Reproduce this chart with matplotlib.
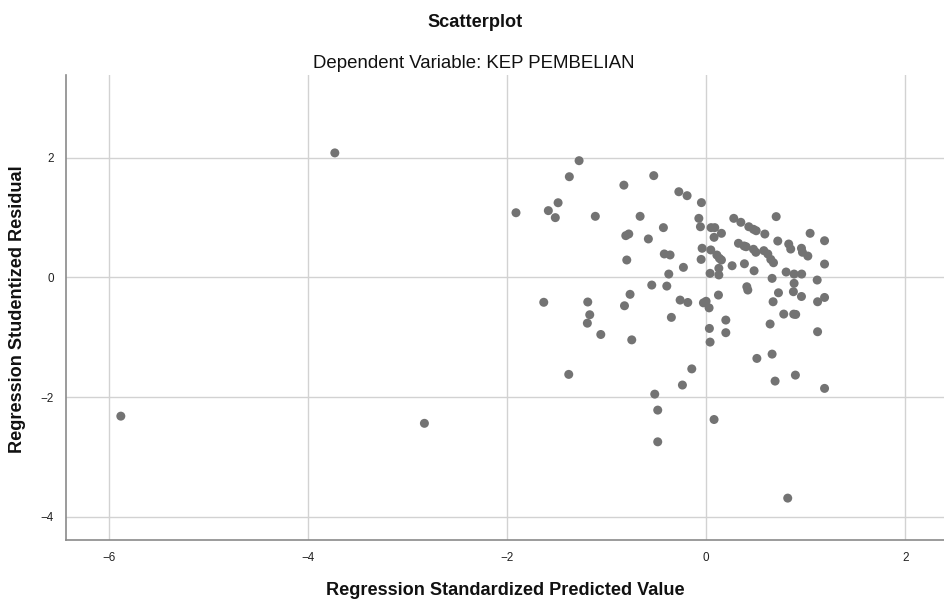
import matplotlib
matplotlib.use("Agg")
import matplotlib.pyplot as plt
from matplotlib import font_manager

# Regression standardized predicted value (x) vs studentized residual (y)
pred = [
    -5.88, -3.73, -2.83, 0.82,
    -1.276, -1.374, -0.826, -0.526, -1.487, -1.91, -1.585, -1.515, -1.113, -0.663,
    -0.807, -0.777, -0.58, -0.797, -0.546,
    -0.764, -0.82, -1.631, -1.189, -1.169, -1.193, -1.058, -0.747, -1.38, -0.516,
    -0.486, -0.486,
    -0.274, -0.191, -0.047, -0.429, -0.073, -0.057, 0.05, 0.087, 0.154, 0.08,
    0.278, 0.349, 0.429, 0.476, 0.503, 0.59, 0.704, 0.72, 0.83, 0.85,
    0.958, 0.968, 1.022, 1.045, 1.19, 1.19, -0.04, 0.047, 0.108, 0.134, 0.154,
    -0.05, 0.325, 0.382, 0.402, 0.476, 0.5, 0.58, 0.62, 0.65, 0.677,
    -0.42, -0.362, -0.228, -0.375, 0.128, 0.128, 0.04, 0.261, 0.385, 0.482,
    0.663, 0.804, 0.884, 0.96, 1.116, -0.395, 0.409, 0.419, 0.884, 0.877,
    0.727, 0.958, 1.19, 1.12, 0.78, 0.88, 0.90,
    -0.261, -0.184, -0.027, 0.0, 0.03, 0.124, 0.673, -0.349, 0.198, 0.033,
    0.198, 0.04, 0.643, 1.12, 0.663, 0.51, -0.144, -0.238, 0.897, 0.693,
    1.19, 0.08,
]
resid = [
    -2.32, 2.08, -2.44, -3.69,
    1.95, 1.682, 1.541, 1.70, 1.247, 1.08, 1.115, 0.998, 1.02, 1.02,
    0.697, 0.725, 0.642, 0.29, -0.129,
    -0.284, -0.475, -0.417, -0.412, -0.625, -0.766, -0.955, -1.045, -1.622, -1.952,
    -2.219, -2.749,
    1.431, 1.365, 1.249, 0.831, 0.986, 0.846, 0.831, 0.831, 0.736, 0.669,
    0.986, 0.92, 0.846, 0.803, 0.779, 0.724, 1.015, 0.607, 0.557, 0.473,
    0.486, 0.419, 0.356, 0.736, 0.612, 0.222, 0.486, 0.458, 0.373, 0.318, 0.29,
    0.30, 0.569, 0.524, 0.512, 0.469, 0.419, 0.446, 0.391, 0.30, 0.244,
    0.391, 0.374, 0.167, 0.055, 0.151, 0.04, 0.067, 0.194, 0.227, 0.11,
    -0.017, 0.089, 0.055, 0.055, -0.045, -0.146, -0.157, -0.212, -0.1, -0.24,
    -0.258, -0.32, -0.336, -0.408, -0.614, -0.615, -0.62,
    -0.38, -0.42, -0.426, -0.40, -0.51, -0.296, -0.408, -0.669, -0.714, -0.854,
    -0.925, -1.082, -0.78, -0.909, -1.283, -1.355, -1.53, -1.80, -1.634, -1.734,
    -1.856, -2.376,
]

x_ticks = [-6, -4, -2, 0, 2]
y_ticks = [-4, -2, 0, 2]

# SPSS-style narrow sans; fall back to Liberation Sans if the narrow cut is missing
installed = {f.name for f in font_manager.fontManager.ttflist}
narrow = "Liberation Sans Narrow" in installed
family = ["Liberation Sans Narrow", "DejaVu Sans"] if narrow else ["Liberation Sans", "DejaVu Sans"]
k = 1.0 if narrow else 0.84
plt.rcParams["font.family"] = family

fig = plt.figure(figsize=(9.44, 6.01), dpi=100)
ax = fig.add_axes([0.07, 0.1015, 0.93, 0.7735])

ax.scatter(pred, resid, s=42, color="#737373", edgecolors="none", zorder=3)

ax.set_xlim(-6.43, 2.39)
ax.set_ylim(-4.39, 3.38)
ax.set_xticks(x_ticks)
ax.set_yticks(y_ticks)
ax.tick_params(length=0, labelsize=10 * k, colors="#222222", pad=9)
ax.grid(True, color="#d2d2d2", linewidth=1)
ax.set_axisbelow(True)

for side in ("top", "right"):
    ax.spines[side].set_visible(False)
for side in ("left", "bottom"):
    ax.spines[side].set_color("#8a8a8a")
    ax.spines[side].set_linewidth(1.2)

fig.text(0.503, 0.962, "Scatterplot", ha="center", va="center",
         fontsize=15.5 * k, fontweight="bold", color="#111111")
fig.text(0.502, 0.895, "Dependent Variable: KEP PEMBELIAN", ha="center", va="center",
         fontsize=16 * k, color="#111111")
fig.text(0.535, 0.018, "Regression Standardized Predicted Value", ha="center",
         va="center", fontsize=15.5 * k, fontweight="bold", color="#111111")
fig.text(0.019, 0.485, "Regression Studentized Residual", ha="center", va="center",
         rotation=90, fontsize=15.5 * k, fontweight="bold", color="#111111")

fig.savefig("out.png", dpi=100)
